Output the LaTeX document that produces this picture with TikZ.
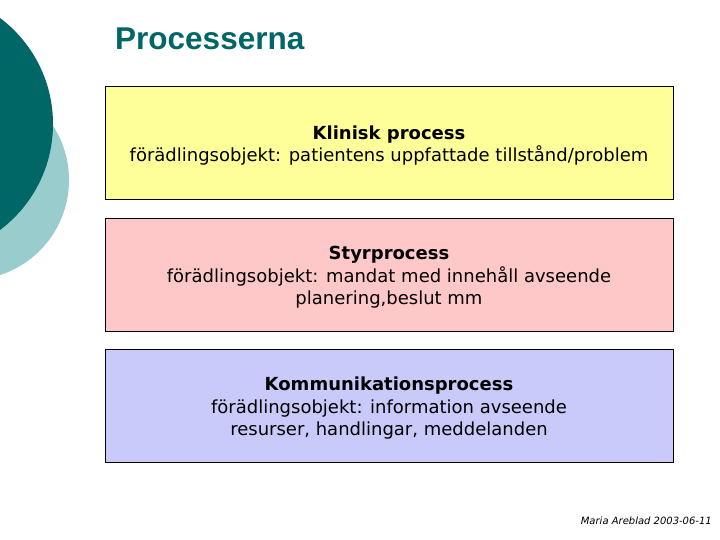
\documentclass[tikz,border=0pt]{standalone}
\usepackage{fontspec}
\setmainfont{DejaVu Sans}
\newfontfamily\titlefont{Liberation Sans}
\definecolor{darkteal}{HTML}{006666}
\definecolor{lightteal}{HTML}{99CCCC}
\definecolor{titlecol}{HTML}{006666}
\definecolor{yel}{HTML}{FFFF99}
\definecolor{pnk}{HTML}{FFC8C8}
\definecolor{lav}{HTML}{CACAFA}
\tikzset{
  procbox/.style={draw=black, line width=0.8pt, minimum width=568pt, minimum height=113pt, inner sep=0pt},
  proctext/.style={inner sep=0pt, align=center, yshift=-3pt, font=\fontsize{18}{22.5}\selectfont},
}
\begin{document}
\begin{tikzpicture}[x=1pt,y=-1pt]
\useasboundingbox (0,0) rectangle (720,540);
\fill[white] (0,0) rectangle (720,540);
\begin{scope}
\clip (0,0) rectangle (720,540);
\fill[lightteal] (-31,180) circle (100);
\fill[darkteal] (-79.5,124) circle (132.5);
\end{scope}
\node[anchor=base west, text=titlecol, font=\titlefont\bfseries\fontsize{31.5}{36}\selectfont, inner sep=0pt] (title) at (115,50) {Processerna};
\node[procbox, fill=yel] (b1) at (389,142.5) {};
\node[procbox, fill=pnk] (b2) at (389,274.5) {};
\node[procbox, fill=lav] (b3) at (389,405.5) {};
\node[proctext] (t1) at (b1) {\textbf{Klinisk process}\\förädlingsobjekt: patientens uppfattade tillstånd/problem};
\node[proctext] (t2) at (b2) {\textbf{Styrprocess}\\förädlingsobjekt: mandat med innehåll avseende\\planering,beslut mm};
\node[proctext] (t3) at (b3) {\textbf{Kommunikationsprocess}\\förädlingsobjekt: information avseende\\resurser, handlingar, meddelanden};
\node[anchor=base east, font=\itshape\fontsize{10}{12}\selectfont, inner sep=0pt] (foot) at (712,524) {Maria Areblad 2003-06-11};
\end{tikzpicture}
\end{document}
